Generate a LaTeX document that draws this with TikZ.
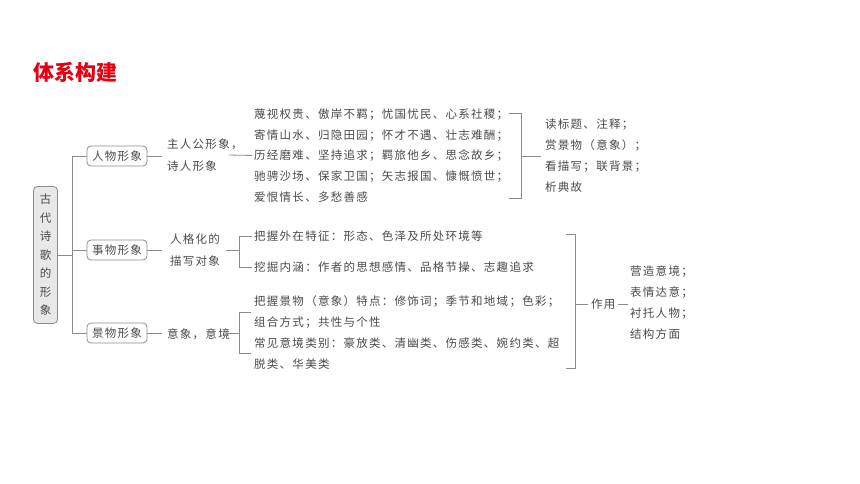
\documentclass[tikz,border=0pt]{standalone}
\usepackage{fontspec}
\newfontfamily\cjk{Noto Sans CJK SC}[LetterSpace=11]
\newfontfamily\cjkt{Noto Sans CJK SC}
\definecolor{txtc}{HTML}{4A4A4A}
\definecolor{linec}{HTML}{8C8C8C}
\definecolor{boxfill}{HTML}{E8E8E8}
\definecolor{titlered}{HTML}{E60012}
\begin{document}
\begin{tikzpicture}[x=1pt,y=-1pt,
  ln/.style={draw=linec, line width=0.8pt},
  txt/.style={font=\cjk\fontsize{11.5}{20.7}\selectfont, text=txtc, inner sep=0pt, anchor=west, align=left},
  branchbox/.style={draw=linec, line width=0.8pt, rounded corners=4pt, minimum width=60pt, minimum height=20pt, inner sep=0pt, font=\cjk\fontsize{11.5}{14}\selectfont, text=txtc},
  rootbox/.style={draw=linec, fill=boxfill, line width=0.8pt, rounded corners=4pt, minimum width=24pt, minimum height=137pt, inner sep=0pt, align=center, font=\cjkt\fontsize{11.5}{18.5}\selectfont, text=txtc},
  titletxt/.style={font=\cjkt\bfseries\fontsize{21}{24}\selectfont, text=titlered, inner sep=0pt, anchor=west}
]
\useasboundingbox (0,0) rectangle (860,484);

\node[titletxt] (title) at (33,72) {体系构建};

\node[rootbox] (root) at (45.5,255) {古\\代\\诗\\歌\\的\\形\\象};

\node[branchbox] (p) at (117,156) {人物形象};
\node[branchbox] (s) at (117,250) {事物形象};
\node[branchbox] (j) at (117,333) {景物形象};

\coordinate (tk) at (72,255);
\draw[ln] (root.east) -- (tk);
\draw[ln] (p.west) -- (p.west -| tk) -- (j.west -| tk) -- (j.west);
\draw[ln] (s.west) -- (s.west -| tk);

% 人物形象
\node[txt, font=\cjk\fontsize{11.5}{22}\selectfont] (p1) at (167,155) {主人公形象，\\诗人形象};
\draw[ln] (p.east) -- ([xshift=-5pt]p1.west |- p.east);
\coordinate (p1r) at (229,155);
\node[txt] (p2) at (254,155.5) {蔑视权贵、傲岸不羁；忧国忧民、心系社稷；\\寄情山水、归隐田园；怀才不遇、壮志难酬；\\历经磨难、坚持追求；羁旅他乡、思念故乡；\\驰骋沙场、保家卫国；矢志报国、慷慨愤世；\\爱恨情长、多愁善感};
\draw[ln] (p1r) -- ([xshift=-2pt]p2.west);
\coordinate (b1t) at (509,113);
\coordinate (b1b) at (509,198);
\coordinate (b1m) at (521,156);
\draw[ln] (b1t) -- (b1t -| b1m) -- (b1b -| b1m) -- (b1b);
\node[txt, font=\cjk\fontsize{11.5}{21}\selectfont] (p3) at (545,155.5) {读标题、注释；\\赏景物（意象）；\\看描写；联背景；\\析典故};
\draw[ln] (b1m) -- ([xshift=-4pt]p3.west |- b1m);

% 事物形象
\node[txt, font=\cjk\fontsize{11.5}{22}\selectfont] (s1) at (170,250.5) {人格化的\\描写对象};
\draw[ln] (s.east) -- ([xshift=-8pt]s1.west |- s.east);
\node[txt] (s2a) at (254,236) {把握外在特征：形态、色泽及所处环境等};
\node[txt] (s2b) at (254,267) {挖掘内涵：作者的思想感情、品格节操、志趣追求};
\coordinate (b2m) at (239,250);
\draw[ln] ([xshift=-2pt]s2a.west) -- (s2a.west -| b2m) -- (s2b.west -| b2m) -- ([xshift=-2pt]s2b.west);
\draw[ln] ([xshift=6pt]s1.east |- b2m) -- (b2m);

% 景物形象
\node[txt] (j1) at (167,334) {意象，意境};
\draw[ln] (j.east) -- ([xshift=-5pt]j1.west |- j.east);
\coordinate (b3m) at (239,333);
\coordinate (b3t) at (251,312);
\coordinate (b3b) at (251,353);
\draw[ln] (b3t) -- (b3t -| b3m) -- (b3b -| b3m) -- (b3b);
\draw[ln] ([xshift=-4pt]j1.east |- b3m) -- (b3m);
\node[txt, font=\cjk\fontsize{11.5}{21.2}\selectfont] (j2) at (254,332.5) {把握景物（意象）特点：修饰词；季节和地域；色彩；\\组合方式；共性与个性\\常见意境类别：豪放类、清幽类、伤感类、婉约类、超\\脱类、华美类};

% 作用
\coordinate (b4t) at (566,234);
\coordinate (b4b) at (566,368);
\coordinate (b4m) at (575,304);
\draw[ln] (b4t) -- (b4t -| b4m) -- (b4b -| b4m) -- (b4b);
\node[txt] (zy) at (591,304) {作用};
\draw[ln] (b4m) -- ([xshift=-3pt]zy.west);
\node[txt, font=\cjk\fontsize{11.5}{21}\selectfont] (zy2) at (630,302.5) {营造意境；\\表情达意；\\衬托人物；\\结构方面};
\draw[ln] ([xshift=2pt]zy.east) -- ([xshift=-2pt]zy2.west |- zy.east);
\end{tikzpicture}
\end{document}
